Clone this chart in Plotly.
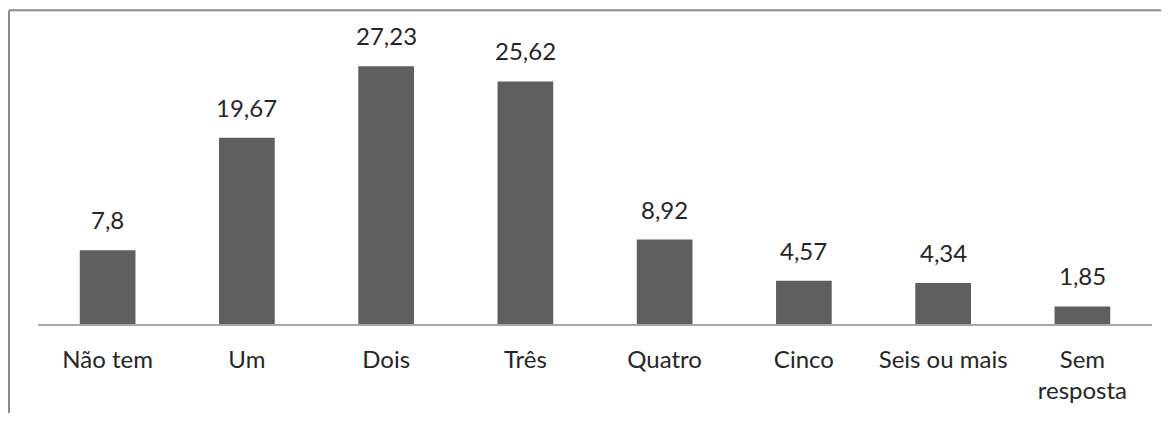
import plotly.graph_objects as go

categorias = ["Não tem", "Um", "Dois", "Três", "Quatro", "Cinco", "Seis ou mais", "Sem<br>resposta"]
valores = [7.8, 19.67, 27.23, 25.62, 8.92, 4.57, 4.34, 1.85]
rotulos = [str(v).replace(".", ",") for v in valores]

# page has an 8px body margin, so the figure is a bit smaller than the window
W, H = 1153, 405
L, R, T, B = 30, 9, 32, 87
FONT = dict(family="Lato, Open Sans, sans-serif", size=24, color="#262626")

fig = go.Figure()
fig.add_trace(go.Bar(
    x=categorias, y=valores,
    marker=dict(color="#5f5f5f", line=dict(width=0)),
    hoverinfo="x+y",
))

# value labels above the bars
for c, v, t in zip(categorias, valores, rotulos):
    fig.add_annotation(x=c, y=v, text=t, showarrow=False,
                       yanchor="bottom", yshift=14, font=FONT)

# frame: top and left edges of the chart box
pw, ph = W - L - R, H - T - B
xl = (1 - L) / pw
yt = (H - B - 2) / ph
fig.add_shape(type="line", xref="paper", yref="paper", x0=xl, x1=(W + 5 - L) / pw,
              y0=yt, y1=yt, line=dict(color="#8c8c8c", width=2))
fig.add_shape(type="line", xref="paper", yref="paper", x0=xl, x1=xl,
              y0=yt, y1=-(B + 5) / ph, line=dict(color="#8c8c8c", width=2))

fig.update_layout(
    width=W, height=H,
    margin=dict(l=L, r=R, t=T, b=B),
    paper_bgcolor="white", plot_bgcolor="white",
    bargap=0.6,
    showlegend=False,
    font=FONT,
    xaxis=dict(type="category", showline=True, linecolor="#a8a8a8", linewidth=2,
               showgrid=False, zeroline=False, ticks="", ticklabelstandoff=13,
               tickfont=FONT),
    yaxis=dict(range=[0, 30], visible=False, showgrid=False, zeroline=False),
)

fig.write_html("out.html")
